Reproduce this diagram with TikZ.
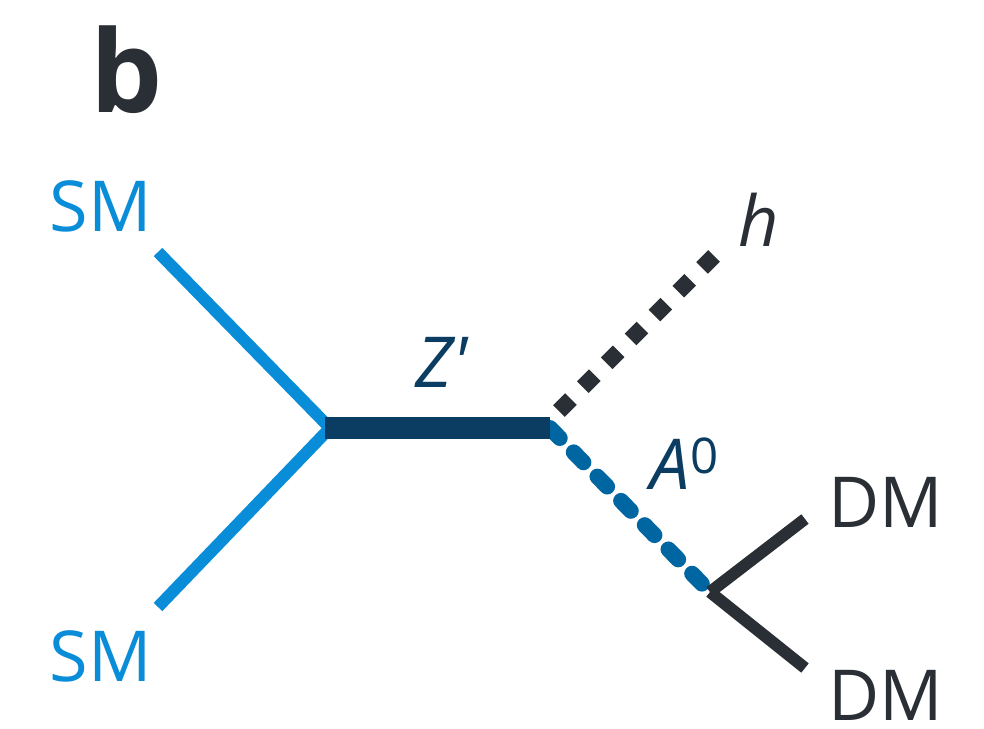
\documentclass[tikz,border=0pt]{standalone}
\usepackage{fontspec}
\setmainfont{Open Sans}
\definecolor{smblue}{HTML}{0A8DD8}
\definecolor{zpnavy}{HTML}{0B3C61}
\definecolor{aoblue}{HTML}{0066A1}
\definecolor{dkgray}{HTML}{2A2E35}

\begin{document}
\begin{tikzpicture}[x=0.02cm, y=-0.02cm,
  lbl/.style={font=\fontsize{40}{48}\selectfont, inner sep=0pt},
  smline/.style={smblue, line width=6.8pt},
  dmline/.style={dkgray, line width=6.8pt}]

\useasboundingbox (0,0) rectangle (984,728);

% Panel letter
\node[font=\fontsize{65}{72}\selectfont\bfseries, text=dkgray, inner sep=0pt] (panel) at (127,70) {b};

% Vertices and free ends
\coordinate (vin) at (330,428);
\coordinate (vout) at (550,428);
\coordinate (vdm) at (710,592);
\coordinate (smtopend) at (158,252);
\coordinate (smbotend) at (158,607);
\coordinate (hstart) at (559,411);
\coordinate (hend) at (715,255);
\coordinate (dmtopend) at (805,519);
\coordinate (dmbotend) at (805,668);

% Labels
\node[lbl, text=smblue] (smtop) at (101,206) {SM};
\node[lbl, text=smblue] (smbot) at (101,656) {SM};
\node[lbl, text=zpnavy] (zp) at (442,362) {\textit{Z\textquotesingle}};
\node[lbl, text=dkgray] (hlbl) at (759,220) {\textit{h}};
\node[lbl, text=zpnavy] (ao) at (685,464) {\textit{A}\textsuperscript{0}};
\node[lbl, text=dkgray] (dmtop) at (886,502) {DM};
\node[lbl, text=dkgray] (dmbot) at (886,695) {DM};

% Incoming SM legs
\draw[smline] (smtopend) -- (vin);
\draw[smline] (smbotend) -- (vin);

% Pseudoscalar A0 (dashed)
\draw[aoblue, line width=9pt, line cap=round, dash pattern=on 8pt off 11.3pt] (vout) -- (vdm);

% Z' propagator
\draw[zpnavy, line width=12.5pt] (325,428) -- (vout);

% Higgs (dotted)
\draw[dkgray, line width=9.4pt, dash pattern=on 9.6pt off 9.6pt] (hstart) -- (hend);

% DM legs
\draw[dmline] (vdm) -- (dmtopend);
\draw[dmline] (vdm) -- (dmbotend);

\end{tikzpicture}
\end{document}
